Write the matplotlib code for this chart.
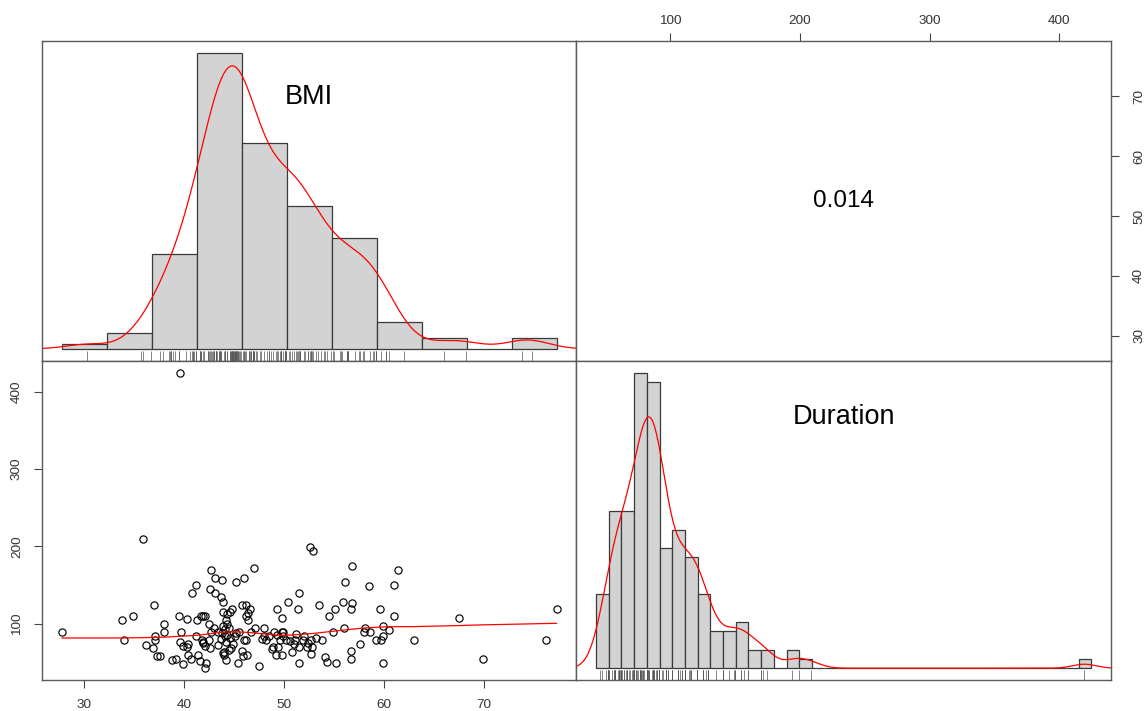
import numpy as np
import matplotlib
matplotlib.use("Agg")
import matplotlib.pyplot as plt
from matplotlib.transforms import blended_transform_factory

plt.rcParams['font.family'] = ['Liberation Sans', 'DejaVu Sans']

bmi = [39.6, 35.9, 52.6, 52.9, 56.8, 47.0, 61.4, 42.7, 46.0, 43.1,
       43.8, 45.2, 56.1, 41.2, 58.5, 61.0, 42.6, 40.8, 43.1, 51.5,
       43.7, 43.9, 50.4, 55.9, 56.8, 37.0, 45.8, 46.2, 53.5, 46.6,
       49.3, 51.4, 55.1, 56.7, 59.6, 77.3, 44.8, 43.9, 44.6, 46.4,
       34.9, 39.5, 41.7, 41.9, 42.1, 46.2, 54.5, 61.0, 33.8, 40.3,
       41.3, 44.2, 46.4, 49.8, 67.5, 38.0, 42.5, 44.3, 59.9, 56.0,
       58.1, 43.0, 44.5, 47.1, 48.0, 60.5, 27.8, 38.0, 39.7, 42.7,
       43.4, 45.5, 46.7, 49.0, 49.8, 49.9, 54.9, 58.0, 58.6, 44.1,
       45.1, 37.1, 41.2, 48.0, 48.5, 49.9, 52.0, 59.9, 34.0, 37.1,
       41.8, 42.5, 46.0, 46.2, 48.2, 49.6, 50.2, 51.1, 51.9, 52.7,
       53.8, 59.2, 59.7, 63.0, 76.2, 41.9, 40.4, 44.9, 51.0, 57.6,
       36.2, 39.9, 42.1, 44.7, 49.4, 51.5, 52.3, 52.8, 36.9, 42.6,
       48.9, 56.7, 45.8, 44.0, 40.4, 41.4, 46.3, 49.2, 49.8, 52.7,
       44.0, 37.3, 45.9, 38.8, 39.2, 40.7, 44.2, 56.7, 69.9, 41.6,
       42.2, 45.4, 51.5, 54.3, 55.2, 59.9, 39.9, 47.5, 42.1, 44.3,
       43.9, 44.1, 43.8, 44.3, 44.6, 43.7, 44.2, 43.4, 44.5, 43.9,
       41.9, 40.3, 45.2, 47.8, 48.8, 49.3, 50.6, 51.2, 52.4, 53.2,
       50.8, 54.1, 37.6, 39.6]
duration = [424.6, 209.6, 199.7, 194.5, 174.7, 171.7, 169.6, 169.6, 159.3, 159.3,
            156.7, 154.5, 154.5, 149.8, 148.5, 149.8, 144.6, 139.9, 139.9, 139.9,
            134.7, 127.9, 127.9, 127.9, 126.6, 124.4, 124.4, 124.4, 124.4, 119.7,
            119.7, 119.7, 119.7, 119.7, 119.7, 119.7, 119.7, 115.0, 115.0, 114.1,
            109.8, 109.8, 109.8, 109.8, 109.8, 109.8, 109.8, 109.8, 104.6, 105.9,
            104.6, 104.6, 104.6, 107.6, 107.6, 99.4, 99.4, 99.4, 96.9, 94.7,
            94.7, 94.7, 94.7, 94.7, 94.7, 91.7, 89.6, 89.6, 89.6, 89.6,
            89.6, 89.6, 89.6, 89.6, 89.6, 89.6, 89.6, 89.6, 89.6, 84.9,
            84.9, 84.9, 84.0, 84.9, 84.9, 84.9, 84.9, 84.9, 79.7, 79.7,
            79.7, 79.7, 79.7, 79.7, 79.7, 79.7, 79.7, 79.7, 79.7, 79.7,
            79.7, 79.7, 79.7, 79.7, 79.7, 75.4, 74.5, 74.5, 74.5, 74.5,
            72.4, 71.1, 71.1, 69.4, 69.8, 69.8, 69.8, 69.8, 68.9, 68.5,
            69.8, 64.6, 64.6, 63.8, 60.3, 59.9, 59.9, 59.9, 59.9, 61.6,
            59.1, 57.8, 57.8, 53.9, 54.8, 54.8, 53.9, 54.8, 54.8, 52.6,
            49.8, 49.6, 49.6, 50.5, 49.6, 49.6, 47.5, 44.9, 42.7, 113.0,
            97.0, 93.0, 88.0, 86.0, 82.0, 81.0, 77.0, 73.0, 66.0, 62.0,
            77.0, 70.2, 88.0, 81.0, 67.0, 86.0, 78.0, 87.0, 75.0, 82.0,
            64.0, 57.0, 58.0, 76.0]

var_names = ["BMI", "Duration"]
corr_label = "0.014"
bmi_breaks = np.arange(25, 81, 5)
duration_breaks = np.arange(40, 431, 10)
bmi_ticks = [30, 40, 50, 60, 70]
duration_ticks = [100, 200, 300, 400]

bmi = np.array(bmi)
duration = np.array(duration)


def padded(lo, hi, frac=0.04):
    r = hi - lo
    return lo - frac * r, hi + frac * r


def kde(v):
    # gaussian kernel, R's default bw.nrd0 and cut = 3
    n = len(v)
    q75, q25 = np.percentile(v, [75, 25])
    bw = 0.9 * min(v.std(ddof=1), (q75 - q25) / 1.34) * n ** -0.2
    grid = np.linspace(v.min() - 3 * bw, v.max() + 3 * bw, 512)
    dens = np.exp(-0.5 * ((grid[:, None] - v[None, :]) / bw) ** 2).sum(axis=1)
    return grid, dens / (n * bw * np.sqrt(2 * np.pi))


def lowess(x, y, f=2 / 3, iters=3):
    idx = np.argsort(x, kind='mergesort')
    x, y = x[idx], y[idx]
    n = len(x)
    ns = max(min(int(f * n + 1e-7), n), 2)
    rw = np.ones(n)
    fit = np.zeros(n)
    for k in range(iters + 1):
        for i in range(n):
            d = np.abs(x - x[i])
            h = np.sort(d)[ns - 1]
            u = d / h if h > 0 else np.zeros(n)
            w = np.where(u < 1, (1 - u ** 3) ** 3, 0) * rw
            sw = w.sum()
            xm = (w * x).sum() / sw
            ym = (w * y).sum() / sw
            sxx = (w * (x - xm) ** 2).sum()
            b = (w * (x - xm) * (y - ym)).sum() / sxx if sxx > 0 else 0
            fit[i] = ym + b * (x[i] - xm)
        res = y - fit
        cmad = 6 * np.median(np.abs(res))
        u = np.abs(res) / cmad
        rw = np.where(u < 1, (1 - u ** 2) ** 2, 0)
    return x, fit


W, H = 1146, 711
fig = plt.figure(figsize=(W / 100, H / 100), dpi=100)


def px_axes(x0, y0, x1, y1):
    return fig.add_axes([x0 / W, 1 - y1 / H, (x1 - x0) / W, (y1 - y0) / H])


ax_h1 = px_axes(42.3, 41, 576.3, 360.7)
ax_c = px_axes(576.3, 41, 1111, 360.7)
ax_s = px_axes(42.3, 360.7, 576.3, 680)
ax_h2 = px_axes(576.3, 360.7, 1111, 680)

frame_col = '#5a5a5a'
for ax in (ax_h1, ax_c, ax_s, ax_h2):
    for side in ['top', 'left', 'bottom', 'right']:
        ax.spines[side].set_color(frame_col)
        ax.spines[side].set_linewidth(1.0)
    ax.set_xticks([])
    ax.set_yticks([])

bmi_lim = padded(bmi.min(), bmi.max())
dur_lim = padded(duration.min(), duration.max())


# diagonal: histogram + density + rug
def diag_panel(ax, v, breaks, label):
    counts, _ = np.histogram(v, bins=breaks, density=True)
    ax.hist(v, bins=breaks, density=True, color='#d3d3d3',
            edgecolor='#3a3a3a', linewidth=0.9)
    gx, gy = kde(v)
    ax.plot(gx, gy, color='red', lw=0.9)
    trans = blended_transform_factory(ax.transData, ax.transAxes)
    ax.vlines(v, 0, 0.03, transform=trans, color='#555555', lw=0.5)
    ax.set_xlim(*padded(breaks[0], breaks[-1]))
    m = counts.max()
    ax.set_ylim(-0.04 * m, 1.04 * m)
    ax.text(0.5, 0.825, label, transform=ax.transAxes, ha='center',
            va='center', fontsize=19.5)


diag_panel(ax_h1, bmi, bmi_breaks, var_names[0])
diag_panel(ax_h2, duration, duration_breaks, var_names[1])

# lower panel: scatter + lowess
ax_s.plot(bmi, duration, 'o', mfc='none', mec='black', ms=5.2, mew=0.85)
lx, ly = lowess(bmi, duration)
ax_s.plot(lx, ly, color='red', lw=0.9)
ax_s.set_xlim(*bmi_lim)
ax_s.set_ylim(*dur_lim)

# upper panel: correlation
ax_c.set_xlim(*dur_lim)
ax_c.set_ylim(*bmi_lim)
ax_c.text(0.5, 0.5, corr_label, transform=ax_c.transAxes, ha='center',
          va='center', fontsize=17.5)

tick_kw = dict(length=5.8, width=0.8, color='#444444', labelsize=9.7,
               labelcolor='#333333')

ax_s.set_xticks(bmi_ticks)
ax_s.tick_params(axis='x', pad=8, **tick_kw)
ax_s.set_yticks(duration_ticks)
ax_s.tick_params(axis='y', pad=12.5, **tick_kw)
for lab in ax_s.get_yticklabels():
    lab.set_rotation(90)
    lab.set_ha('center')
    lab.set_va('center')

ax_c.xaxis.tick_top()
ax_c.set_xticks(duration_ticks)
ax_c.tick_params(axis='x', pad=4, **tick_kw)
ax_c.yaxis.tick_right()
ax_c.set_yticks(bmi_ticks)
ax_c.tick_params(axis='y', pad=14.5, **tick_kw)
for lab in ax_c.get_yticklabels():
    lab.set_rotation(90)
    lab.set_ha('center')
    lab.set_va('center')

fig.savefig('out.png', dpi=100)
